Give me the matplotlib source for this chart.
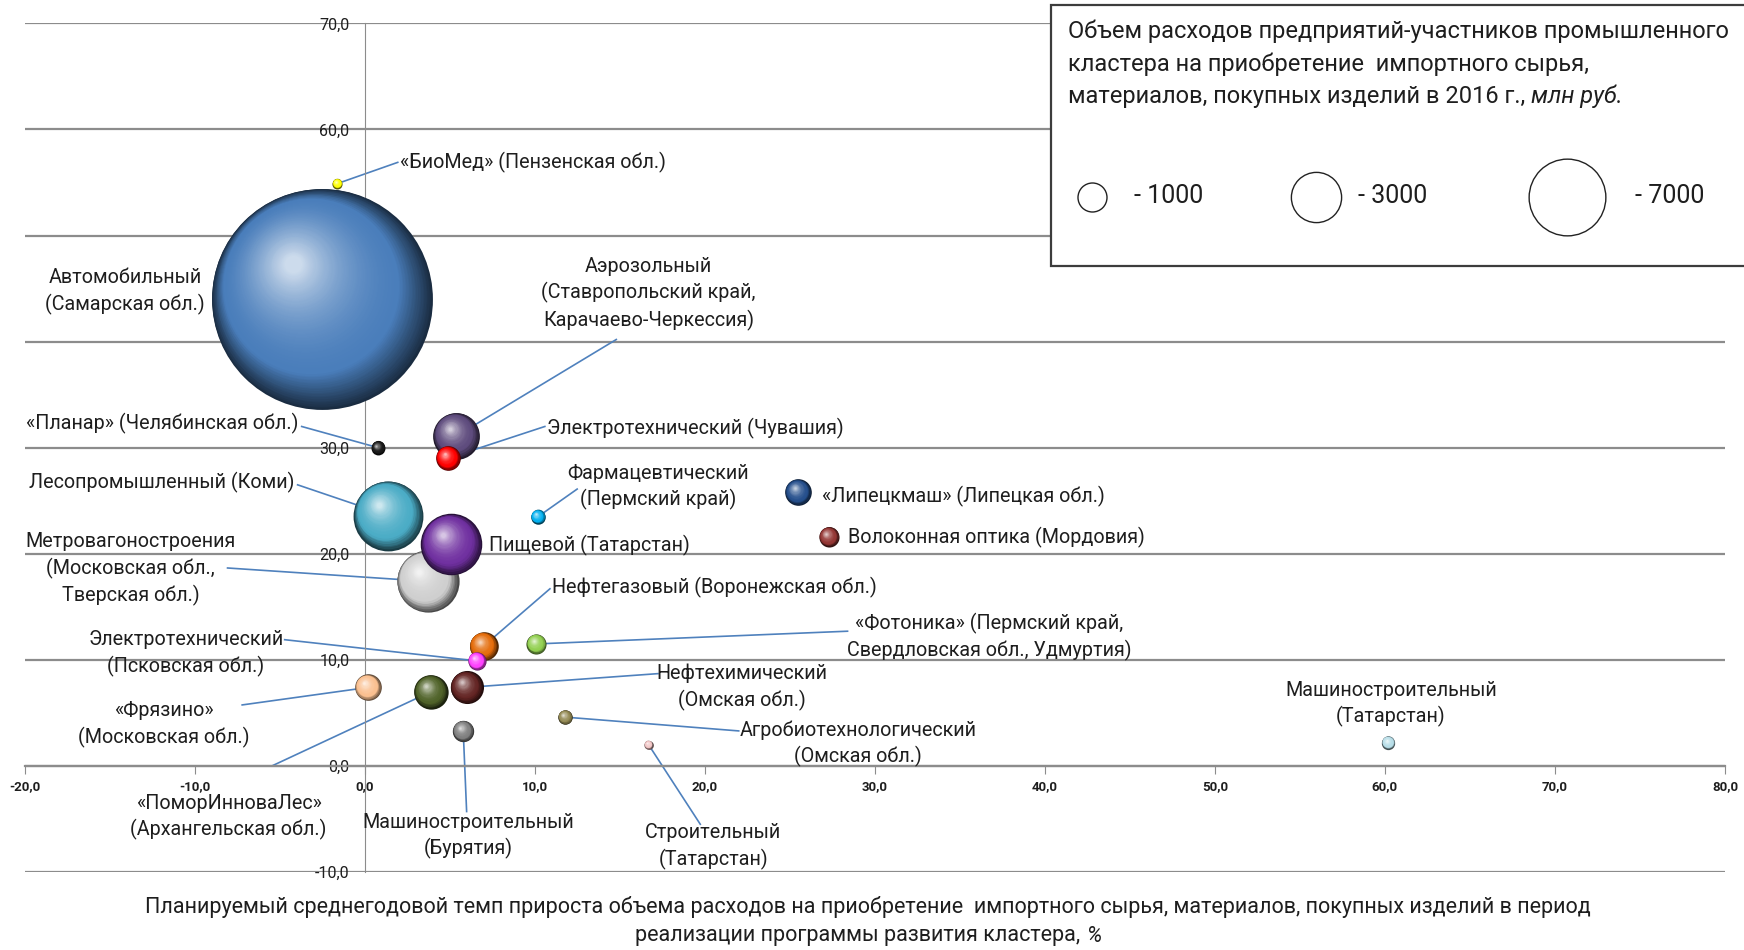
import matplotlib
matplotlib.use("Agg")
import matplotlib.pyplot as plt
import matplotlib.transforms as mtransforms
from matplotlib.colors import to_rgb
from matplotlib.patches import Rectangle
from matplotlib.ticker import FuncFormatter, MultipleLocator
import numpy as np

plt.rcParams["font.family"] = ["Roboto", "DejaVu Sans"]

# --- data: clusters, growth rate (x), y-value, 2016 import spend (bubble size, mln rub)
CLUSTERS = [
    "Автомобильный\n(Самарская обл.)",
    "«БиоМед» (Пензенская обл.)",
    "Аэрозольный\n(Ставропольский край,\nКарачаево-Черкессия)",
    "«Планар» (Челябинская обл.)",
    "Электротехнический (Чувашия)",
    "Фармацевтический\n(Пермский край)",
    "«Липецкмаш» (Липецкая обл.)",
    "Волоконная оптика (Мордовия)",
    "Метровагоностроения\n(Московская обл.,\nТверская обл.)",
    "Лесопромышленный (Коми)",
    "Пищевой (Татарстан)",
    "Нефтегазовый (Воронежская обл.)",
    "«Фотоника» (Пермский край,\nСвердловская обл., Удмуртия)",
    "Электротехнический\n(Псковская обл.)",
    "«Фрязино»\n(Московская обл.)",
    "«ПоморИнноваЛес»\n(Архангельская обл.)",
    "Нефтехимический\n(Омская обл.)",
    "Агробиотехнологический\n(Омская обл.)",
    "Машиностроительный\n(Бурятия)",
    "Строительный\n(Татарстан)",
    "Машиностроительный\n(Татарстан)",
]
GROWTH = [-2.5, -1.6, 5.4, 0.8, 4.9, 10.2, 25.5, 27.3, 3.7, 1.4, 5.1,
          7.0, 10.1, 6.6, 0.2, 3.9, 6.0, 11.8, 5.8, 16.7, 60.2]
Y_VALUE = [44.0, 54.9, 31.1, 30.0, 29.0, 23.5, 25.8, 21.6, 17.4, 23.6, 20.9,
           11.3, 11.5, 9.9, 7.4, 7.0, 7.4, 4.6, 3.3, 2.0, 2.2]
SPEND_2016 = [58000, 120, 2600, 230, 720, 250, 840, 480, 4600, 5800, 4500,
              970, 480, 390, 840, 1400, 1300, 250, 540, 90, 210]
LEGEND_SIZES = [1000, 3000, 7000]

COLORS = ["#4a7ebb", "#ffff00", "#5e4b7d", "#1a1a1a", "#ff0000", "#00b0f0",
          "#254f8c", "#943634", "#cfcfcf", "#4bacc6", "#7030a0", "#e46c0a",
          "#92d050", "#ff40ff", "#fac090", "#4f6228", "#632423", "#938953",
          "#7f7f7f", "#f2c4c4", "#b7dee8"]

# label layout: (text x, text y, ha, leader end or None)
LABEL_LAYOUT = [
    (-14.1, 44.7, "center", None),
    (2.1, 56.9, "left", (1.95, 56.9)),
    (16.7, 44.5, "center", (14.8, 40.2)),
    (-3.9, 32.3, "right", (-3.7, 32.0)),
    (10.7, 31.8, "left", (10.6, 32.0)),
    (17.25, 26.3, "center", (12.5, 26.1)),
    (26.9, 25.4, "left", None),
    (28.4, 21.5, "left", None),
    (-13.75, 18.55, "center", (-8.06, 18.66)),
    (-4.1, 26.7, "right", (-3.94, 26.5)),
    (7.3, 20.75, "left", None),
    (11.04, 16.8, "left", (10.9, 16.7)),
    (36.75, 12.15, "center", (28.4, 12.7)),
    (-10.5, 10.6, "center", (-4.7, 11.9)),
    (-11.8, 3.9, "center", (-7.2, 5.75)),
    (-8.0, -4.8, "center", (-5.45, 0.0)),
    (22.2, 7.4, "center", (17.25, 8.7)),
    (29.0, 2.1, "center", (22.0, 3.3)),
    (6.07, -6.6, "center", (6.0, -4.3)),
    (20.5, -7.6, "center", (19.74, -5.5)),
    (60.35, 5.85, "center", None),
]

SIZE_SCALE = 0.436  # points^2 per mln rub
TEXT_COLOR = "#1e1e1e"
GRID_COLOR = "#8c8c8c"
LEADER_COLOR = "#4f81bd"

W, H = 1744, 950
fig = plt.figure(figsize=(W / 100, H / 100), dpi=100)
ax = fig.add_axes([24.5 / W, 78 / H, 1700.5 / W, 848.6 / H])
ax.set_xlim(-20, 80)
ax.set_ylim(-10, 70)


def sphere(x, y, s, color, z=3):
    base = np.array(to_rgb(color))
    dark = base * 0.35
    light = base + (1 - base) * 0.72
    r_pt = np.sqrt(s) / 2
    n = int(np.clip(r_pt * 1.2, 18, 110))
    for i in range(n):
        t = i / (n - 1)
        if t < 0.22:
            c = dark + (base - dark) * (t / 0.22)
        else:
            c = base + (light - base) * ((t - 0.22) / 0.78) ** 1.7
        frac = 1 - 0.92 * t
        off = r_pt * 0.92 * t * (0.85 - 0.4 * t)
        tr = mtransforms.offset_copy(ax.transData, fig=fig, x=-0.646 * off,
                                     y=0.763 * off, units="points")
        ax.scatter([x], [y], s=s * frac ** 2, color=np.clip(c, 0, 1),
                   linewidths=0, transform=tr, zorder=z)


# bubbles
for i in range(len(CLUSTERS)):
    sphere(GROWTH[i], Y_VALUE[i], SPEND_2016[i] * SIZE_SCALE, COLORS[i])

# labels + leader lines
for i, name in enumerate(CLUSTERS):
    tx, ty, ha, lead = LABEL_LAYOUT[i]
    if lead is not None:
        ax.plot([lead[0], GROWTH[i]], [lead[1], Y_VALUE[i]], color=LEADER_COLOR,
                lw=1.2, zorder=2)
    ax.text(tx, ty, name, ha=ha, va="center", fontsize=14.2, color=TEXT_COLOR,
            linespacing=1.4, zorder=4, multialignment="center")

# axes styling
for side in ["top", "right"]:
    ax.spines[side].set_visible(False)
ax.spines["left"].set_position(("data", 0))
ax.spines["bottom"].set_position(("data", 0))
ax.spines["left"].set_color(GRID_COLOR)
ax.spines["bottom"].set_color(GRID_COLOR)
ax.spines["bottom"].set_linewidth(1.6)
ax.xaxis.set_major_locator(MultipleLocator(10))
ax.yaxis.set_major_locator(MultipleLocator(10))
fmt = FuncFormatter(lambda v, p: f"{v:.1f}".replace(".", ","))
ax.xaxis.set_major_formatter(fmt)
ax.yaxis.set_major_formatter(fmt)
ax.yaxis.grid(True, color=GRID_COLOR, lw=1.6)
ax.set_axisbelow(True)
ax.tick_params(axis="y", length=0, pad=11, labelsize=11.5, labelcolor=TEXT_COLOR)
ax.tick_params(axis="x", length=6, direction="out", color=GRID_COLOR,
               pad=4, labelsize=9.5, labelcolor=TEXT_COLOR)
for lbl in ax.get_xticklabels():
    lbl.set_fontweight("bold")
ax.patch.set_alpha(0)

renderer = fig.canvas.get_renderer()


def mixed_line(x, y, parts, ha="left", size=15.5):
    # parts: list of (text, style); x, y in figure pixels
    texts = [fig.text(0, 0, t, fontsize=size, style=st, color=TEXT_COLOR,
                      va="center", zorder=6) for t, st in parts]
    widths = [t.get_window_extent(renderer).width for t in texts]
    start = x - sum(widths) / 2 if ha == "center" else x
    for t, w in zip(texts, widths):
        t.set_position((start / W, 1 - y / H))
        start += w


# x axis title
fig.text(868 / W, 1 - 907 / H,
         "Планируемый среднегодовой темп прироста объема расходов на приобретение  "
         "импортного сырья, материалов, покупных изделий в период",
         ha="center", va="center", fontsize=15.5, color=TEXT_COLOR)
mixed_line(868, 936, [("реализации программы развития кластера, ", "normal"),
                      ("%", "italic")], ha="center")

# size legend box
fig.add_artist(Rectangle((1051 / W, 1 - 266 / H), 800 / W, 261 / H,
                         transform=fig.transFigure, facecolor="white",
                         edgecolor="#3c3c3c", lw=1.6, zorder=5))
fig.text(1068 / W, 1 - 31 / H,
         "Объем расходов предприятий-участников промышленного",
         va="center", fontsize=17, color=TEXT_COLOR, zorder=6)
fig.text(1068 / W, 1 - 64.5 / H, "кластера на приобретение  импортного сырья,",
         va="center", fontsize=17, color=TEXT_COLOR, zorder=6)
mixed_line(1068, 96.7, [("материалов, покупных изделий в 2016 г., ", "normal"),
                        ("млн руб.", "italic")], size=17)

legend_x = [1092, 1315.5, 1567]
legend_text_x = [1134, 1358, 1634.6]
for v, cx, lx in zip(LEGEND_SIZES, legend_x, legend_text_x):
    fig.add_artist(plt.Line2D([cx / W], [1 - 197 / H], marker="o",
                              markersize=np.sqrt(v * SIZE_SCALE),
                              markerfacecolor="none", markeredgecolor="#222222",
                              markeredgewidth=1.0, transform=fig.transFigure,
                              zorder=6))
    fig.text(lx / W, 1 - 196 / H, f"- {v}", va="center", fontsize=18,
             color=TEXT_COLOR, zorder=6)

fig.savefig("out.png", dpi=100)
